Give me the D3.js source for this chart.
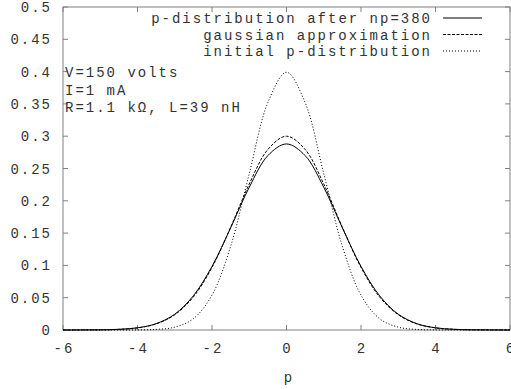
<!DOCTYPE html>
<html>
<head>
<meta charset="utf-8">
<script src="https://cdn.jsdelivr.net/npm/d3@7"></script>
<style>
  body { margin: 0; background: #fff; }
  text { font-family: "Liberation Mono", "DejaVu Sans Mono", monospace; font-size: 14px; fill: #333; letter-spacing: 2px; }
</style>
</head>
<body>
<svg id="chart" width="511" height="389"></svg>
<script>
// sampled p values
var pValues = [-6, -5.5, -5, -4.5, -4, -3.5, -3, -2.5, -2, -1.5, -1, -0.5, 0,
               0.5, 1, 1.5, 2, 2.5, 3, 3.5, 4, 4.5, 5, 5.5, 6];
// p-distribution after np=380
var afterNp = [0, 0.0001, 0.0003, 0.0011, 0.0034, 0.0098, 0.0245, 0.053, 0.0985, 0.158, 0.221, 0.270, 0.288,
               0.270, 0.221, 0.158, 0.0985, 0.053, 0.0245, 0.0098, 0.0034, 0.0011, 0.0003, 0.0001, 0];
// gaussian approximation
var gaussApprox = [0.00001, 0.00006, 0.00026, 0.00098, 0.0033, 0.0094, 0.0236, 0.0512, 0.0968, 0.159, 0.226, 0.2795, 0.300,
                   0.2795, 0.226, 0.159, 0.0968, 0.0512, 0.0236, 0.0094, 0.0033, 0.00098, 0.00026, 0.00006, 0.00001];
// initial p-distribution
var initialP = [0, 0, 0, 0, 0.0001, 0.0009, 0.0044, 0.0175, 0.054, 0.1295, 0.242, 0.352, 0.399,
                0.352, 0.242, 0.1295, 0.054, 0.0175, 0.0044, 0.0009, 0.0001, 0, 0, 0, 0];

var xTicks = [-6, -4, -2, 0, 2, 4, 6];
var yTicks = [0, 0.05, 0.1, 0.15, 0.2, 0.25, 0.3, 0.35, 0.4, 0.45, 0.5];
var seriesNames = ['p-distribution after np=380', 'gaussian approximation', 'initial p-distribution'];
var notes = ['V=150 volts', 'I=1 mA', 'R=1.1 k\u03a9, L=39 nH'];

(function() {
    var svg = d3.select('#chart');
    var mLeft = 63, mRight = 510, mTop = 7, mBottom = 330;

    var x = d3.scaleLinear().domain([-6, 6]).range([mLeft, mRight]);
    var y = d3.scaleLinear().domain([0, 0.5]).range([mBottom, mTop]);

    var axisColor = '#808080';

    // frame
    svg.append('rect')
        .attr('x', mLeft).attr('y', mTop)
        .attr('width', mRight - mLeft).attr('height', mBottom - mTop)
        .attr('fill', 'none').attr('stroke', axisColor).attr('stroke-width', 1);

    // ticks on all sides, pointing inward
    var tickLen = 5;
    svg.append('g').selectAll('line').data(xTicks).enter().append('line')
        .attr('x1', function(d) { return x(d); }).attr('x2', function(d) { return x(d); })
        .attr('y1', mBottom).attr('y2', mBottom - tickLen)
        .attr('stroke', axisColor);
    svg.append('g').selectAll('line').data(xTicks).enter().append('line')
        .attr('x1', function(d) { return x(d); }).attr('x2', function(d) { return x(d); })
        .attr('y1', mTop).attr('y2', mTop + tickLen)
        .attr('stroke', axisColor);
    svg.append('g').selectAll('line').data(yTicks).enter().append('line')
        .attr('x1', mLeft).attr('x2', mLeft + tickLen)
        .attr('y1', function(d) { return y(d); }).attr('y2', function(d) { return y(d); })
        .attr('stroke', axisColor);
    svg.append('g').selectAll('line').data(yTicks).enter().append('line')
        .attr('x1', mRight).attr('x2', mRight - tickLen)
        .attr('y1', function(d) { return y(d); }).attr('y2', function(d) { return y(d); })
        .attr('stroke', axisColor);

    // tick labels
    svg.append('g').selectAll('text').data(xTicks).enter().append('text')
        .attr('x', function(d) { return x(d) + 1; })
        .attr('y', 353)
        .attr('text-anchor', 'middle')
        .text(function(d) { return d; });
    svg.append('g').selectAll('text').data(yTicks).enter().append('text')
        .attr('x', 52)
        .attr('y', function(d) { return y(d) + 5; })
        .attr('text-anchor', 'end')
        .text(function(d) { return d; });

    svg.append('text').attr('x', 289).attr('y', 382).attr('text-anchor', 'middle').text('p');

    // curves
    var series = [
        { name: seriesNames[0], values: afterNp, dash: null },
        { name: seriesNames[1], values: gaussApprox, dash: '3,1.5' },
        { name: seriesNames[2], values: initialP, dash: '1,2' }
    ];

    var line = d3.line()
        .x(function(d) { return x(d[0]); })
        .y(function(d) { return y(d[1]); })
        .curve(d3.curveCatmullRom.alpha(0.5));

    series.forEach(function(s) {
        var pts = pValues.map(function(p, i) { return [p, s.values[i]]; });
        svg.append('path')
            .attr('d', line(pts))
            .attr('fill', 'none')
            .attr('stroke', '#000')
            .attr('stroke-width', 1)
            .attr('stroke-dasharray', s.dash);
    });

    // legend
    series.forEach(function(s, i) {
        var ly = 18 + i * 16.5;
        svg.append('text')
            .attr('x', 432).attr('y', ly + 5)
            .attr('text-anchor', 'end')
            .text(s.name);
        svg.append('line')
            .attr('x1', 443).attr('x2', 482)
            .attr('y1', ly).attr('y2', ly)
            .attr('stroke', '#000')
            .attr('stroke-dasharray', s.dash);
    });

    // notes
    notes.forEach(function(t, i) {
        svg.append('text').attr('x', 65).attr('y', 77 + i * 17.5).text(t);
    });
})();
</script>
</body>
</html>
